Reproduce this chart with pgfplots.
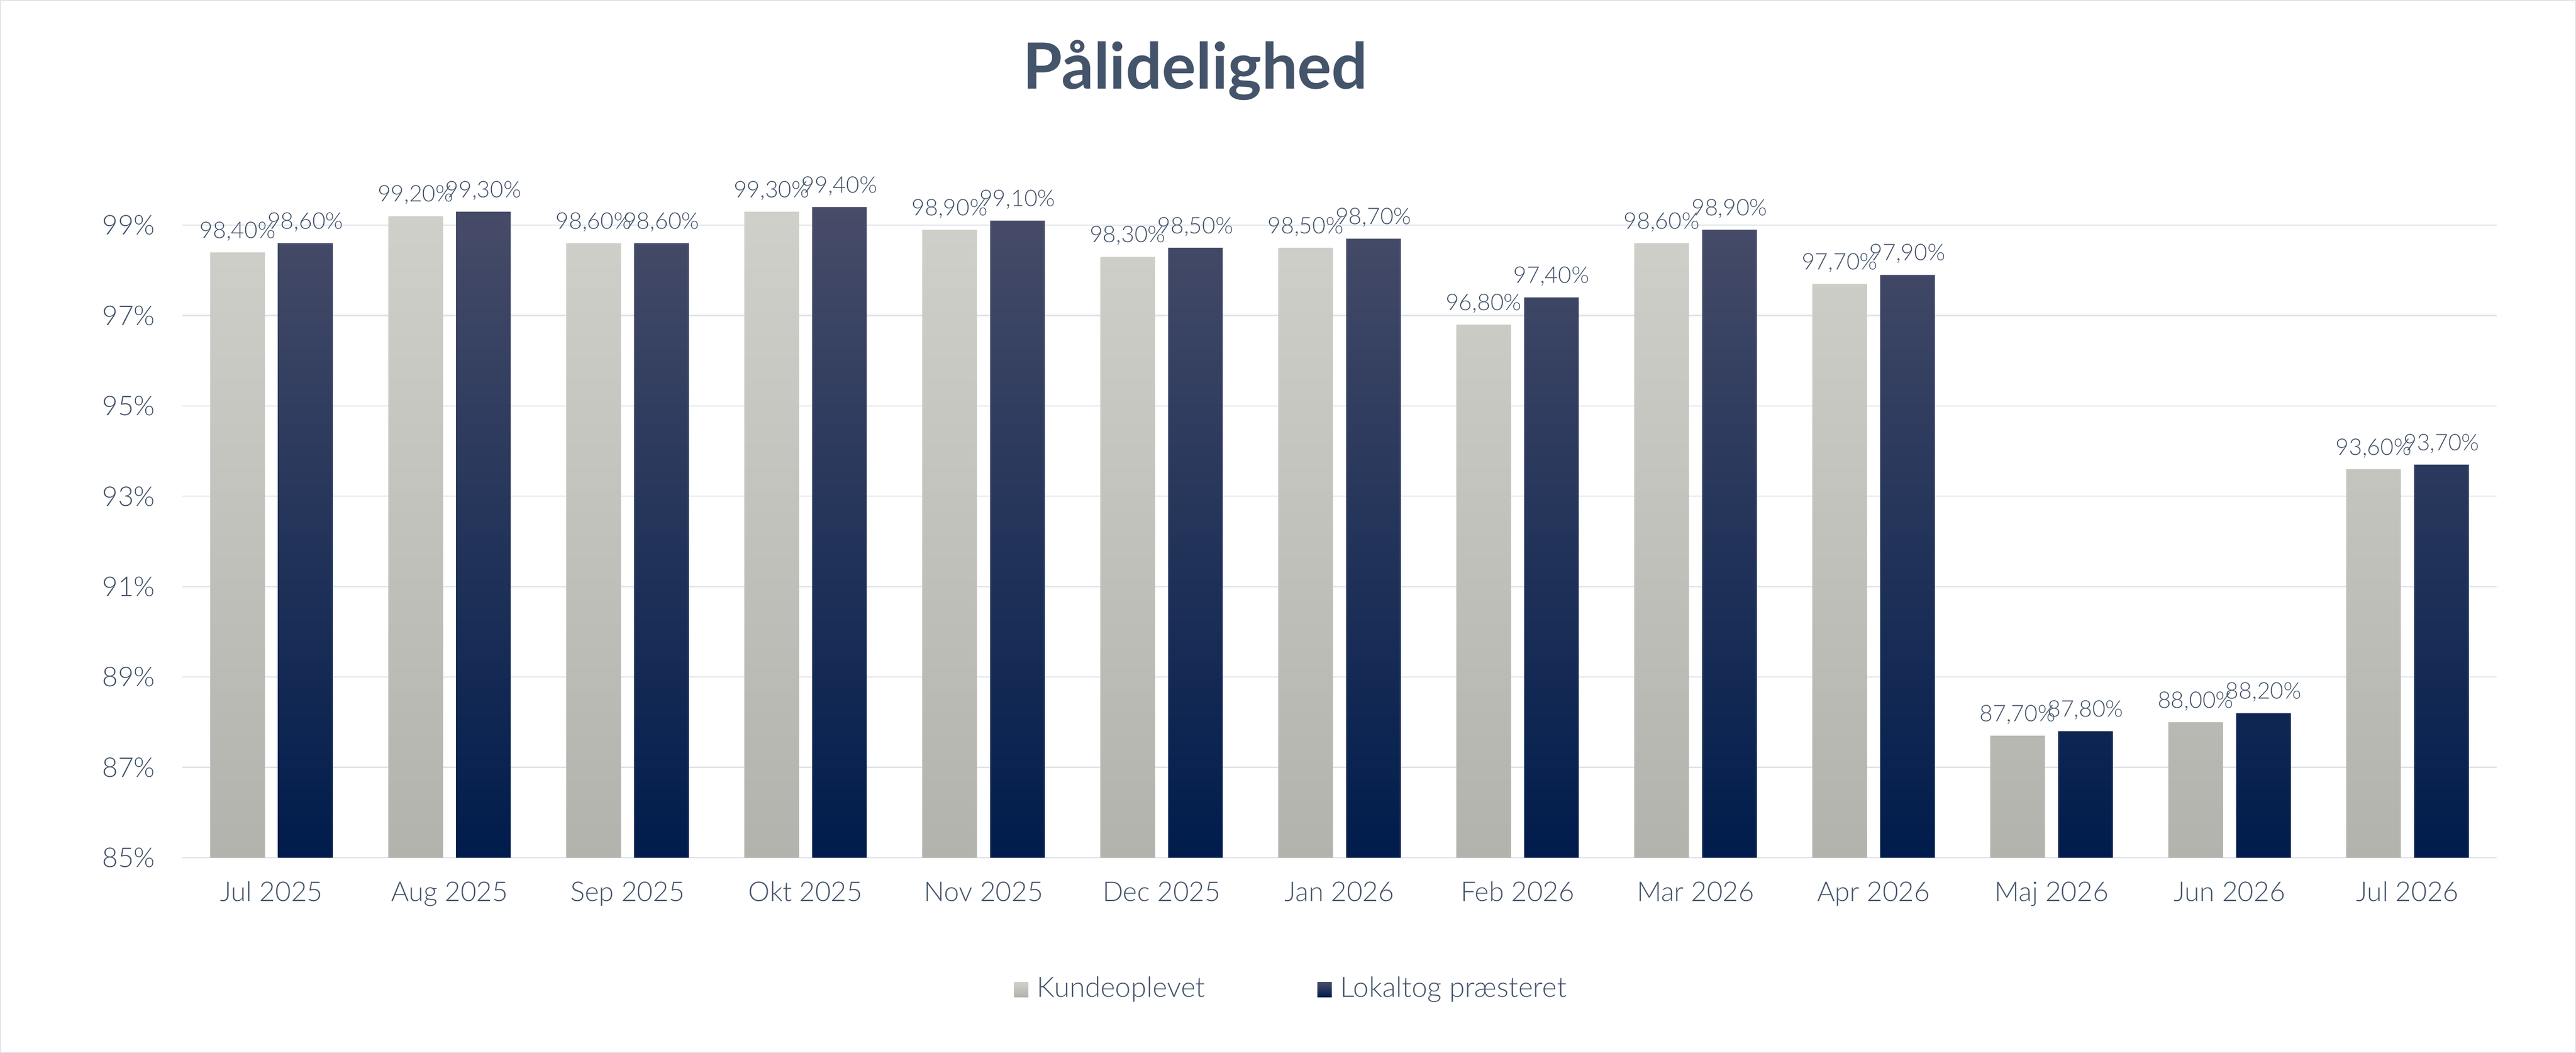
\documentclass[border=0pt]{standalone}
\usepackage{fontspec}
\setmainfont{Lato}[UprightFont=* Light, BoldFont=* Bold]
\usepackage{pgfplots}
\usepackage{pgfplotstable}
\pgfplotsset{compat=1.18}
\definecolor{textc}{RGB}{68,84,106}
\definecolor{gridc}{RGB}{222,226,233}
\definecolor{framec}{RGB}{224,228,234}
\definecolor{lightTop}{RGB}{208,208,203}
\definecolor{lightBot}{RGB}{179,179,173}
\definecolor{darkTop}{RGB}{71,76,104}
\definecolor{darkBot}{RGB}{0,28,76}
\pgfplotstableread{
x K L
0 98.4 98.6
1 99.2 99.3
2 98.6 98.6
3 99.3 99.4
4 98.9 99.1
5 98.3 98.5
6 98.5 98.7
7 96.8 97.4
8 98.6 98.9
9 97.7 97.9
10 87.7 87.8
11 88.0 88.2
12 93.6 93.7
}\datatable
\begin{document}
\begin{tikzpicture}
\useasboundingbox (0,0) rectangle (687.4pt,281pt);
\draw[framec, line width=0.3pt] (0.15pt,0.15pt) rectangle (687.25pt,280.85pt);
\begin{axis}[
  at={(48.7pt,52.1pt)}, anchor=south west,
  scale only axis,
  width=617.5pt, height=183.27pt,
  xmin=-0.5, xmax=12.5,
  ymin=85, ymax=100.2,
  ybar=3.5pt, bar width=14.6pt,
  xtick={0,...,12},
  xticklabels={Jul 2025, Aug 2025, Sep 2025, Okt 2025, Nov 2025, Dec 2025, Jan 2026, Feb 2026, Mar 2026, Apr 2026, Maj 2026, Jun 2026, Jul 2026},
  ytick={85,87,...,99},
  yticklabel={\pgfmathprintnumber{\tick}\%},
  /pgf/number format/assume math mode=true,
  major tick length=0pt,
  axis line style={draw=none},
  ymajorgrids,
  grid style={gridc, line width=0.3pt},
  tick label style={font=\fontsize{7.26}{8}\selectfont, text=textc},
  x tick label style={anchor=base, yshift=-11.6pt, inner sep=0pt},
  y tick label style={anchor=east, xshift=-7.1pt, inner sep=0pt},
  title={Pålidelighed},
  title style={at={(axis description cs:0.4377,1.0865)}, anchor=base, font=\bfseries\fontsize{17}{19}\selectfont, text=textc, inner sep=0pt},
  nodes near coords={\pgfmathprintnumber[fixed,fixed zerofill,precision=2,use comma,assume math mode=true]{\pgfplotspointmeta}\%},
  every node near coord/.append style={anchor=base, yshift=3.8pt, inner sep=0pt, font=\fontsize{6.1}{7}\selectfont, text=textc},
  legend columns=2,
  legend style={at={(axis description cs:0.3594,-0.192)}, anchor=west, draw=none, fill=none, inner sep=0pt, outer sep=0pt,
    font=\fontsize{7.5}{8}\selectfont, text=textc,
    nodes={inner sep=0pt},
    /tikz/every odd column/.append style={column sep=2.3pt},
    /tikz/every even column/.append style={column sep=30pt}},
  legend image code/.code={\fill[#1] (0pt,-1.95pt) rectangle (3.8pt,1.95pt);},
]
\addplot[draw=none, top color=lightTop, bottom color=lightBot] table[x=x, y=K] {\datatable};
\addlegendentry{Kundeoplevet}
\addplot[draw=none, top color=darkTop, middle color=darkBot, bottom color=darkBot] table[x=x, y=L] {\datatable};
\addlegendentry{Lokaltog præsteret}
\end{axis}
\end{tikzpicture}
\end{document}
